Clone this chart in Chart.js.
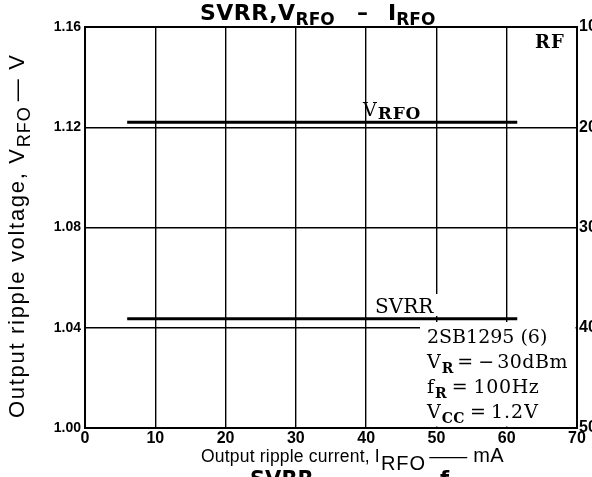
<!DOCTYPE html>
<html>
<head>
<meta charset="utf-8">
<script src="https://cdn.jsdelivr.net/npm/chart.js@4.4.1/dist/chart.umd.min.js"></script>
<style>
  html, body { margin: 0; padding: 0; background: #fff; }
  #wrap { width: 592px; height: 477px; }
</style>
</head>
<body>
<div id="wrap"><canvas id="svrrChart" width="592" height="477"></canvas></div>
<script>
/* SVRR, V_RFO vs I_RFO  (2SB1295, RF section) */

// measured curves, both flat over the load range
const currentMA = [6, 61.5];
const vrfoVolts = [1.122, 1.122];
const svrrDB = [39.1, 39.1];

// axis ticks
const currentTicks = [0, 10, 20, 30, 40, 50, 60, 70];
const voltTicks = [1.00, 1.04, 1.08, 1.12, 1.16];
const dbTicks = [10, 20, 30, 40, 50];

const SANS = "'Liberation Sans', Arial, sans-serif";
const HEAVY = "'DejaVu Sans', sans-serif";
const SERIF = "'DejaVu Serif', serif";
const INK = '#000';

// draws a row of text pieces (normal + subscript) left to right;
// sx stretches a piece horizontally (used for the long dash)
function drawRuns(ctx, x, y, runs) {
  ctx.textAlign = 'left';
  ctx.textBaseline = 'alphabetic';
  for (const r of runs) {
    ctx.font = r.font;
    ctx.letterSpacing = r.ls || '0px';
    if (r.at !== undefined) x = r.at;
    const sx = r.sx || 1;
    ctx.save();
    ctx.translate(x, y + (r.dy || 0));
    ctx.scale(sx, 1);
    ctx.fillText(r.t, 0, 0);
    ctx.restore();
    x += ctx.measureText(r.t).width * sx + (r.gap || 0);
  }
  ctx.letterSpacing = '0px';
  return x;
}

const textPlugin = {
  id: 'chartText',
  beforeDatasetsDraw(chart) {
    // keep the grid clear behind the SVRR label and the conditions block
    const { ctx, chartArea: a } = chart;
    ctx.save();
    ctx.fillStyle = '#fff';
    ctx.fillRect(370, 294, 71, 22);
    ctx.fillRect(420, 322, a.right - 421.5, a.bottom - 323.5);
    ctx.restore();
  },
  afterDraw(chart) {
    const { ctx } = chart;
    ctx.save();
    ctx.fillStyle = INK;

    // title
    drawRuns(ctx, 200, 20, [
      { t: 'SVRR,V', font: `bold 22px ${HEAVY}`, ls: '0.5px' },
      { t: 'RFO', font: `bold 17px ${HEAVY}`, dy: 5 },
      { t: '–', font: `bold 22px ${HEAVY}`, at: 357 },
      { t: 'I', font: `bold 22px ${HEAVY}`, at: 388 },
      { t: 'RFO', font: `bold 17px ${HEAVY}`, dy: 5 }
    ]);

    // curve labels
    drawRuns(ctx, 363, 116, [
      { t: 'V', font: `19px ${SERIF}`, gap: 1 },
      { t: 'RFO', font: `bold 17px ${SERIF}`, dy: 3, ls: '0.8px' }
    ]);
    drawRuns(ctx, 375, 313, [{ t: 'SVRR', font: `20px ${SERIF}` }]);
    drawRuns(ctx, 535, 48, [{ t: 'RF', font: `bold 18px ${SERIF}`, ls: '1px' }]);

    // test conditions
    const big = `19px ${SERIF}`, sub = `bold 14px ${SERIF}`;
    drawRuns(ctx, 427, 343, [{ t: '2SB1295 (6)', font: big }]);
    drawRuns(ctx, 427, 368, [
      { t: 'V', font: big, gap: 1 },
      { t: 'R', font: sub, dy: 5, gap: 4 },
      { t: '=', font: big, gap: 5 },
      { t: '−', font: big, gap: 3 },
      { t: '30dBm', font: big, ls: '0.5px' }
    ]);
    drawRuns(ctx, 427, 393, [
      { t: 'f', font: big, gap: 1 },
      { t: 'R', font: sub, dy: 5, gap: 5 },
      { t: '=', font: big, gap: 6 },
      { t: '100Hz', font: big, ls: '0.6px' }
    ]);
    drawRuns(ctx, 427, 418, [
      { t: 'V', font: big, gap: 1 },
      { t: 'CC', font: sub, dy: 5, gap: 5, ls: '0.5px' },
      { t: '=', font: big, gap: 5 },
      { t: '1.2V', font: big, ls: '1px' }
    ]);

    // axis titles
    drawRuns(ctx, 201, 462, [
      { t: 'Output ripple current, I', font: `17.5px ${SANS}`, ls: '0.2px', gap: 1 },
      { t: 'RFO', font: `20px ${SANS}`, dy: 8, gap: 3, ls: '1px' },
      { t: '—', font: `19px ${SANS}`, sx: 2, gap: 6 },
      { t: 'mA', font: `20px ${SANS}`, ls: '0.5px' }
    ]);
    ctx.translate(24, 418);
    ctx.rotate(-Math.PI / 2);
    drawRuns(ctx, 0, 0, [
      { t: 'Output ripple voltage, V', font: `22px ${SANS}`, ls: '1.7px' },
      { t: 'RFO', font: `18px ${SANS}`, dy: 6, gap: 5, ls: '1px' },
      { t: '— V', font: `22px ${SANS}`, ls: '1.7px' }
    ]);
    ctx.restore();

    // next graph's title, cut by the page edge
    ctx.save();
    ctx.fillStyle = INK;
    drawRuns(ctx, 250, 486, [{ t: 'SVRR', font: `bold 21px ${HEAVY}` }]);
    drawRuns(ctx, 440, 486, [{ t: 'f', font: `bold 21px ${HEAVY}` }]);
    ctx.restore();
  }
};

const tickFont = { family: SANS, size: 16, weight: 'bold' };
const toPoints = ys => currentMA.map((x, i) => ({ x, y: ys[i] }));

new Chart(document.getElementById('svrrChart'), {
  type: 'line',
  data: {
    datasets: [
      { label: 'VRFO', data: toPoints(vrfoVolts), yAxisID: 'y',
        borderColor: INK, borderWidth: 3.2, pointRadius: 0, borderCapStyle: 'butt' },
      { label: 'SVRR', data: toPoints(svrrDB), yAxisID: 'y2',
        borderColor: INK, borderWidth: 3.2, pointRadius: 0, borderCapStyle: 'butt' }
    ]
  },
  options: {
    responsive: false,
    animation: false,
    devicePixelRatio: 1,
    layout: { padding: { top: 27, left: 0, right: 0, bottom: 0 } },
    plugins: { legend: { display: false }, tooltip: { enabled: false } },
    scales: {
      x: {
        type: 'linear', position: 'bottom', min: 0, max: 70,
        afterBuildTicks: s => { s.ticks = currentTicks.map(v => ({ value: v })); },
        afterFit: s => { s.height = 49; },
        ticks: { font: tickFont, color: INK, padding: 1, maxRotation: 0, autoSkip: false },
        grid: { color: INK, drawTicks: false,
          lineWidth: c => (c.tick && (c.tick.value === 0 || c.tick.value === 70)) ? 0 : 1.4 },
        border: { color: INK, width: 2 }
      },
      y: {
        type: 'linear', position: 'left', min: 1.00, max: 1.16,
        afterBuildTicks: s => { s.ticks = voltTicks.map(v => ({ value: v })); },
        afterFit: s => { s.width = 85; },
        ticks: { font: { ...tickFont, size: 14 }, color: INK, padding: 4,
          callback: v => v.toFixed(2) },
        grid: { color: INK, drawTicks: false,
          lineWidth: c => {
            if (!c.tick) return 0;
            if (c.tick.value >= 1.159) return 2;
            if (c.tick.value <= 1.001) return 0;
            return 1.4;
          } },
        border: { color: INK, width: 2 }
      },
      y2: {
        type: 'linear', position: 'right', min: 10, max: 50, reverse: true,
        afterBuildTicks: s => { s.ticks = dbTicks.map(v => ({ value: v })); },
        afterFit: s => { s.width = 15; },
        ticks: { font: tickFont, color: INK, padding: 2 },
        grid: { display: false, drawTicks: false },
        border: { color: INK, width: 2 }
      }
    }
  },
  plugins: [textPlugin]
});
</script>
</body>
</html>
